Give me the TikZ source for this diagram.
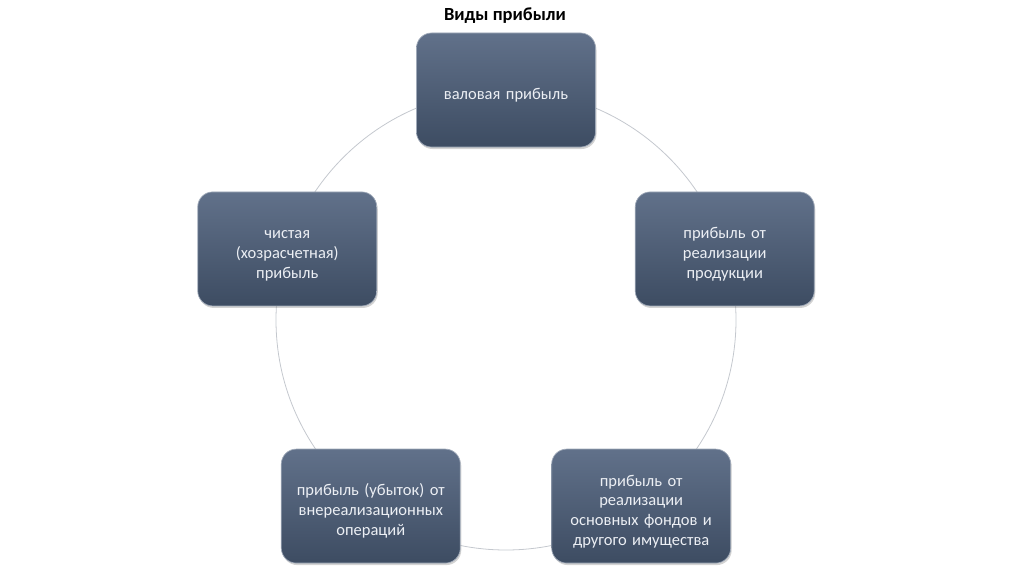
\documentclass[tikz,border=0pt]{standalone}
\usepackage{fontspec}
\setmainfont{Carlito}
\usepackage{tikz}
\usetikzlibrary{shadows}

\definecolor{boxtop}{HTML}{61718A}
\definecolor{boxbot}{HTML}{3D4C62}
\definecolor{boxtext}{HTML}{ECEFF4}
\definecolor{ringcol}{HTML}{C4C8CE}

\tikzset{
    kind/.style={rectangle, rounded corners=15pt, minimum width=179pt, minimum height=114pt,
        text width=170pt, align=center, top color=boxtop, bottom color=boxbot,
        draw=boxtop!60!white, line width=0.7pt, text=boxtext,
        font=\fontsize{16.5}{19.8}\selectfont,
        execute at begin node={\rule{0pt}{22pt}},
        drop shadow={shadow xshift=1pt, shadow yshift=-2pt, opacity=0.35}},
    ring/.style={draw=ringcol, line width=0.8pt}
}

\begin{document}
\begin{tikzpicture}[x=1pt, y=1pt]
    \useasboundingbox (-506,-254) rectangle (518,320);
    \node[font=\bfseries\fontsize{18.5}{22}\selectfont] (title) at (-1,304) {Виды прибыли};
    \draw[ring] (0,0) circle (230);
    \node[kind] (gross) at (90:230) {валовая прибыль};
    \node[kind] (sales) at (18:230) {прибыль от\\реализации\\продукции};
    \node[kind] (assets) at (-54:230) {прибыль от\\реализации\\основных фондов и\\другого имущества};
    \node[kind] (nonop) at (234:230) {прибыль (убыток) от\\внереализационных\\операций};
    \node[kind] (net) at (162:230) {чистая\\(хозрасчетная)\\прибыль};
\end{tikzpicture}
\end{document}
